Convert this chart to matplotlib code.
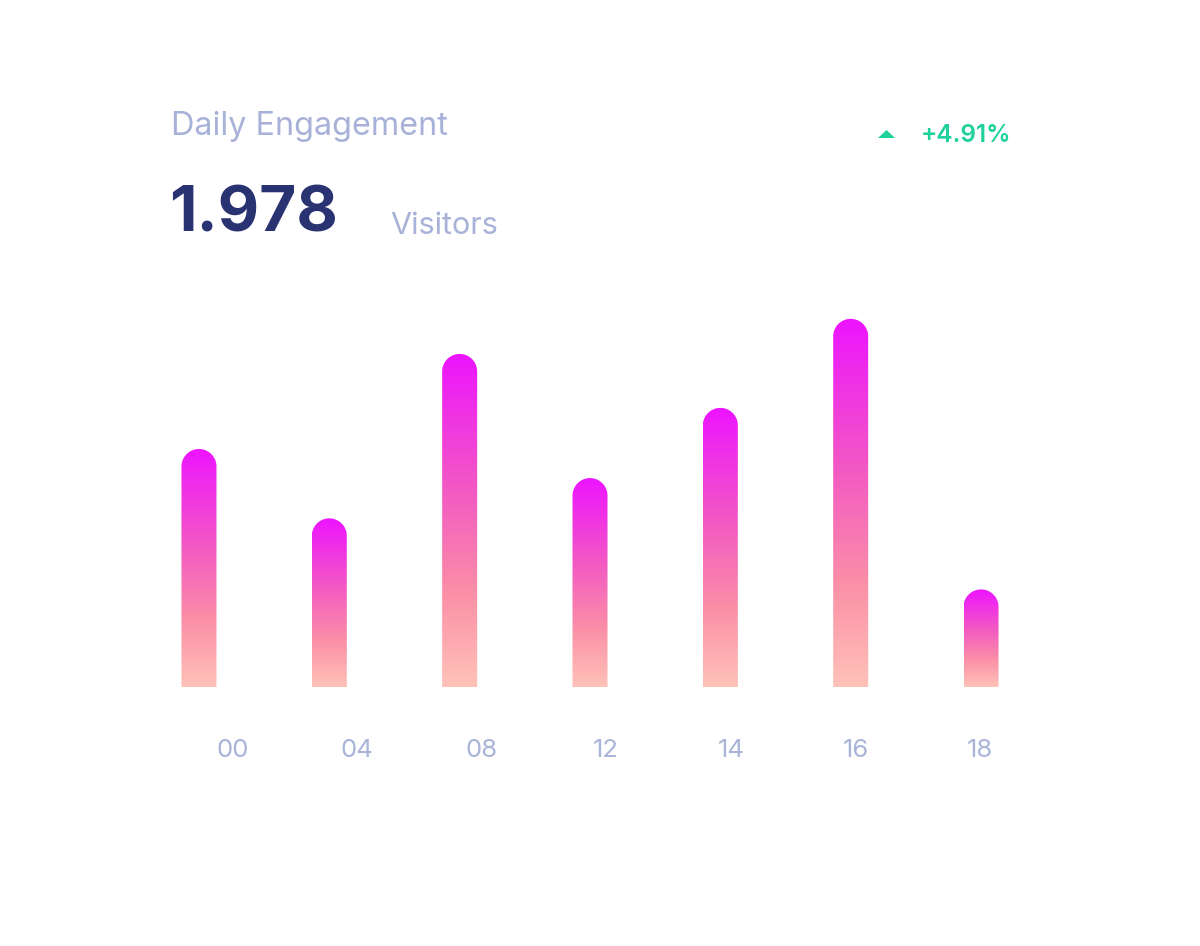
import numpy as np
import matplotlib
matplotlib.use('Agg')
import matplotlib.pyplot as plt
from matplotlib.path import Path
from matplotlib.patches import PathPatch, Polygon
from matplotlib.colors import LinearSegmentedColormap

plt.rcParams['font.family'] = ['Inter', 'DejaVu Sans']

# data
hours = ['00', '04', '08', '12', '14', '16', '18']
visitors = [278, 197, 389, 244, 326, 430, 114]
total = '1.978'
change = '+4.91%'

W, H = 1200, 946

def fx(px):
    return px / W

def fy(py):
    return 1 - py / H

fig = plt.figure(figsize=(12, 9.46), dpi=100)
fig.patch.set_facecolor('white')

# main axes, placed in pixels
ax = fig.add_axes([fx(133.8), fy(687), 912.4 / W, 387 / H])
ax.set_xlim(-0.5, 6.5)
ax.set_ylim(0, 452)
ax.axis('off')

cmap = LinearSegmentedColormap.from_list(
    'pinkfade', [(0, '#ffc2b8'), (0.28, '#fb8fa7'), (0.58, '#f35bc2'), (1, '#ec14ff')])
grad = np.linspace(0, 1, 256).reshape(-1, 1)

bar_w = 35 / 130.33
p0 = ax.transData.transform((0, 0))
p1 = ax.transData.transform((1, 1))
sx, sy = p1[0] - p0[0], p1[1] - p0[1]
rx = bar_w / 2
ry = rx * sx / sy

for i, v in enumerate(visitors):
    x0, x1 = i - rx, i + rx
    t = np.linspace(0, np.pi, 60)
    arc = np.column_stack([i + rx * np.cos(t), v - ry + ry * np.sin(t)])
    verts = np.vstack([[x0, 0], [x1, 0], [x1, v - ry], arc, [x0, v - ry], [x0, 0]])
    clip = PathPatch(Path(verts, closed=True), transform=ax.transData,
                     facecolor='none', edgecolor='none')
    ax.add_patch(clip)
    im = ax.imshow(grad, extent=(x0, x1, 0, v), origin='lower', aspect='auto',
                   cmap=cmap, interpolation='bilinear')
    im.set_clip_path(clip)

ax.set_xlim(-0.5, 6.5)
ax.set_ylim(0, 452)

# hour labels sit on their own spacing
ax2 = ax.twiny()
ax2.set_xlim((133.8 - 232.5) / 124.6, (1046.2 - 232.5) / 124.6)
ax2.xaxis.set_ticks_position('bottom')
ax2.set_xticks(range(len(hours)))
ax2.set_xticklabels(hours)
ax2.tick_params(axis='x', length=0, pad=45.5, labelsize=18.5, labelcolor='#a9b4d8')
for lbl in ax2.get_xticklabels():
    lbl.set_va('center')
for s in ax2.spines.values():
    s.set_visible(False)
ax2.set_yticks([])
ax2.patch.set_visible(False)

# header texts
fig.text(fx(171), fy(135), 'Daily Engagement', fontsize=23.3, color='#a8b2d8', va='baseline')
fig.text(fx(169), fy(232), total, fontsize=46, weight='bold', color='#2a3372', va='baseline')
fig.text(fx(390), fy(234), 'Visitors', fontsize=22, color='#a8b2d8', va='baseline')
fig.text(fx(921), fy(142), change, fontsize=17.5, weight='semibold', color='#1fd19b', va='baseline')
tri = Polygon([[fx(878), fy(138)], [fx(886.5), fy(130)], [fx(895), fy(138)]],
              closed=True, transform=fig.transFigure, facecolor='#1fd19b', edgecolor='none')
fig.patches.append(tri)

fig.savefig('out.png', dpi=100, facecolor='white')
